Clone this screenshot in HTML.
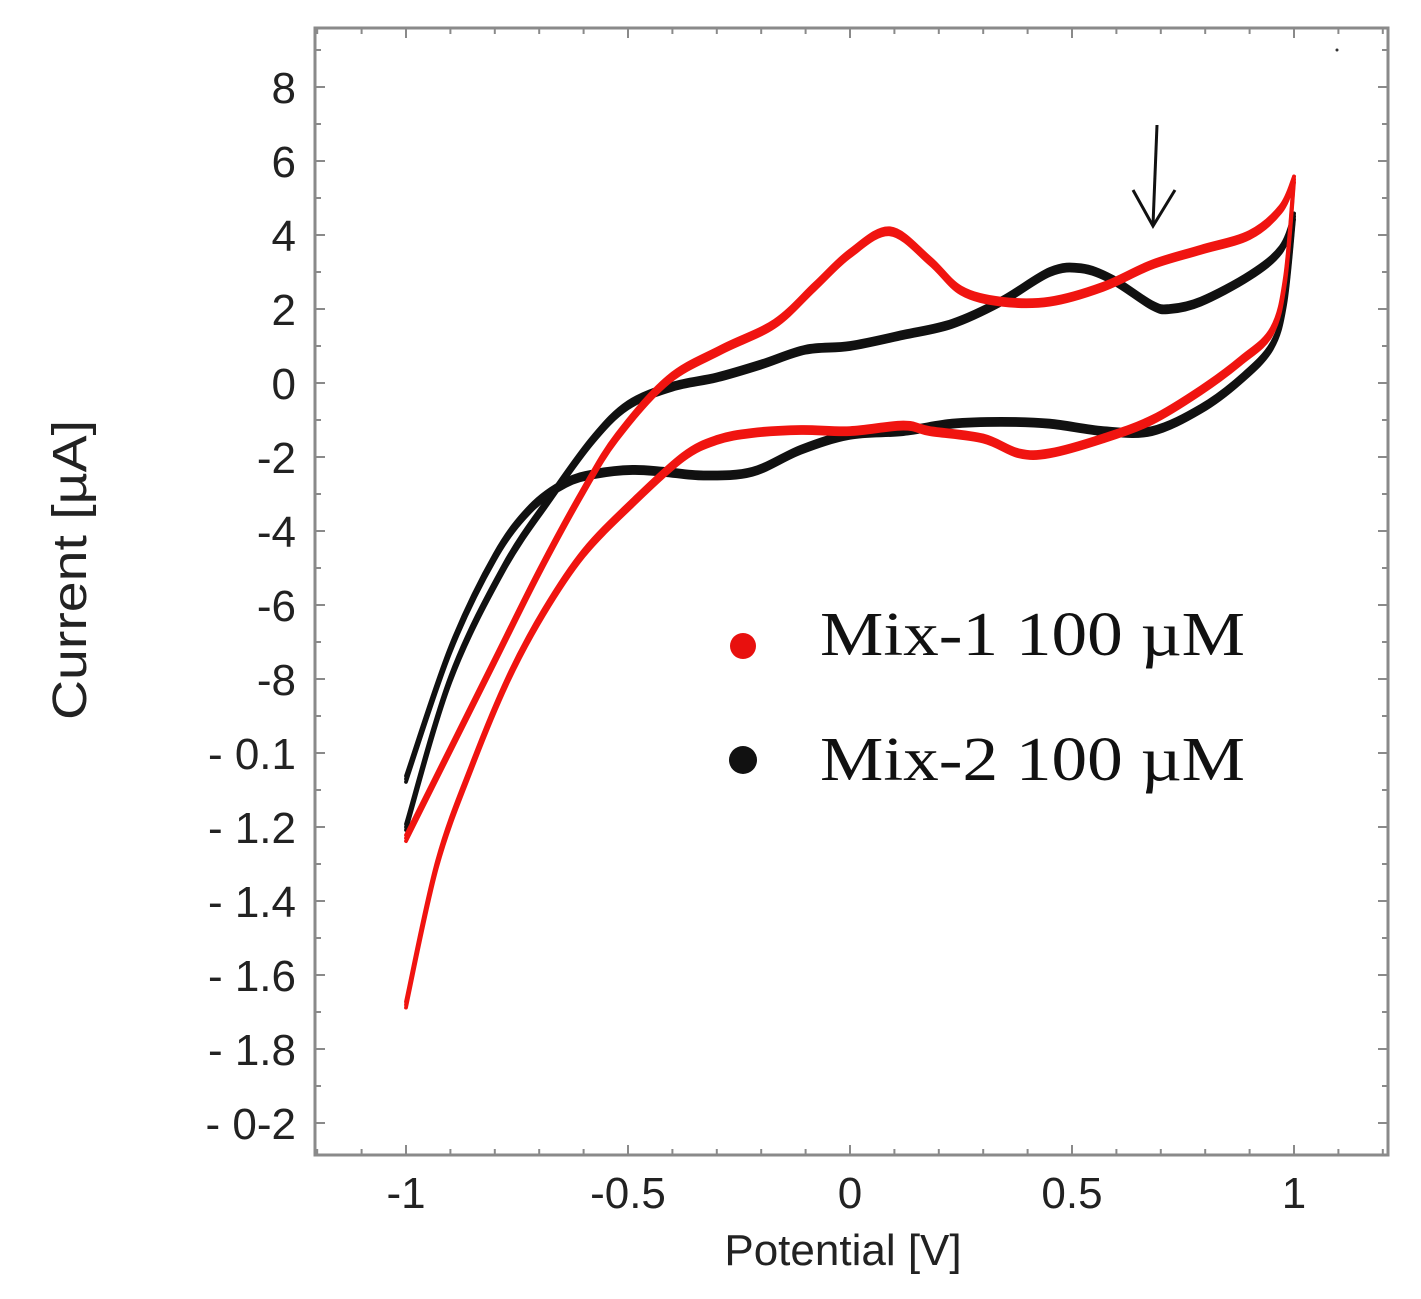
<!DOCTYPE html>
<html><head><meta charset="utf-8"><style>
html,body{margin:0;padding:0;background:#fff;}
svg{display:block;}
</style></head><body>
<svg id="chart" width="1421" height="1299" viewBox="0 0 1421 1299" xmlns="http://www.w3.org/2000/svg">
<rect x="0" y="0" width="1421" height="1299" fill="#fff"/>
<g id="axes"></g>
<g id="series"></g>
<g>
<circle cx="743" cy="646" r="13" fill="#e8100e"/>
<text x="820" y="655" font-family="Liberation Serif, serif" font-size="62" textLength="425" lengthAdjust="spacingAndGlyphs" fill="#111">Mix-1 100 µM</text>
<circle cx="743" cy="760" r="14" fill="#111"/>
<text x="820" y="780" font-family="Liberation Serif, serif" font-size="62" textLength="425" lengthAdjust="spacingAndGlyphs" fill="#111">Mix-2 100 µM</text>
</g>
<g stroke="#111" stroke-width="3" fill="none">
<line x1="1157" y1="125" x2="1153" y2="225"/>
<polyline points="1133,190 1153,226 1175,190"/>
</g>
<circle cx="1337" cy="50" r="1.5" fill="#333"/>
<text x="843" y="1265" text-anchor="middle" font-family="Liberation Sans, sans-serif" font-size="44" fill="#222">Potential [V]</text>
<text transform="translate(86,570) rotate(-90)" text-anchor="middle" font-family="Liberation Sans, sans-serif" font-size="48" textLength="300" lengthAdjust="spacingAndGlyphs" fill="#222">Current [µA]</text>
</svg>
<script>
// ---- data ----
const xTickValues = [-1, -0.5, 0, 0.5, 1];
const xTickLabels = ["-1", "-0.5", "0", "0.5", "1"];
const yTickValues = [8, 6, 4, 2, 0, -2, -4, -6, -8, -10, -12, -14, -16, -18, -20];
const yTickLabels = ["8", "6", "4", "2", "0", "-2", "-4", "-6", "-8", "- 0.1", "- 1.2", "- 1.4", "- 1.6", "- 1.8", "- 0-2"];

const mix1ForwardV = [-1, -0.9, -0.8, -0.7, -0.6, -0.525, -0.41, -0.29, -0.17, -0.08, 0, 0.09, 0.18, 0.25, 0.34, 0.45, 0.57, 0.68, 0.79, 0.9, 0.97, 1];
const mix1ForwardI = [-12.3, -9.9, -7.5, -5.1, -2.9, -1.46, 0.08, 0.9, 1.6, 2.6, 3.5, 4.1, 3.3, 2.5, 2.2, 2.2, 2.6, 3.2, 3.6, 4.0, 4.7, 5.5];
const mix1ReverseV = [1, 0.98, 0.95, 0.88, 0.79, 0.68, 0.57, 0.45, 0.38, 0.3, 0.18, 0.12, 0, -0.11, -0.22, -0.3, -0.376, -0.49, -0.6, -0.69, -0.77, -0.85, -0.93, -1];
const mix1ReverseI = [5.5, 2.8, 1.4, 0.6, -0.2, -1.0, -1.5, -1.9, -1.9, -1.5, -1.3, -1.15, -1.3, -1.27, -1.35, -1.54, -2.0, -3.24, -4.6, -6.2, -8.0, -10.3, -13.0, -16.8];
const mix2ForwardV = [-1, -0.9, -0.78, -0.675, -0.58, -0.5, -0.4, -0.3, -0.2, -0.1, 0, 0.12, 0.23, 0.34, 0.45, 0.52, 0.59, 0.68, 0.72, 0.79, 0.9, 0.97, 1];
const mix2ForwardI = [-12, -8.0, -5.0, -3.1, -1.54, -0.6, -0.1, 0.15, 0.5, 0.9, 1.0, 1.3, 1.6, 2.2, 3.0, 3.1, 2.8, 2.1, 2.0, 2.2, 2.9, 3.6, 4.5];
const mix2ReverseV = [1, 0.98, 0.95, 0.88, 0.79, 0.68, 0.57, 0.45, 0.34, 0.23, 0.12, 0, -0.11, -0.22, -0.33, -0.42, -0.49, -0.57, -0.64, -0.72, -0.8, -0.9, -1];
const mix2ReverseI = [4.5, 2.2, 1.0, 0.1, -0.7, -1.3, -1.3, -1.1, -1.05, -1.1, -1.3, -1.4, -1.8, -2.4, -2.5, -2.4, -2.35, -2.45, -2.7, -3.4, -4.7, -7.2, -10.7];

// ---- axis functions ----
const X0 = 850, XPU = 444;
const Y0 = 383, YPU = 37;
function sx(v){ return X0 + v * XPU; }
function sy(v){ return Y0 - v * YPU; }
const NS = 'http://www.w3.org/2000/svg';
function mk(tag, attrs, parent){
  const e = document.createElementNS(NS, tag);
  for (const k in attrs) e.setAttribute(k, attrs[k]);
  parent.appendChild(e); return e;
}
const axes = document.getElementById('axes');
const L = 315, R = 1388, T = 28, B = 1155;
const frame = mk('rect', {x:L, y:T, width:R-L, height:B-T, fill:'none', stroke:'#8a8a8a', 'stroke-width':3}, axes);



for (let i = -12; i <= 12; i++) {
  const v = i / 10, x = sx(v);
  if (x < L + 2 || x > R - 2) continue;
  const len = (i % 5 === 0) ? 10 : 6;
  const t1 = mk('line', {x1:x, y1:B, x2:x, y2:B-len, stroke:'#8a8a8a', 'stroke-width':2}, axes);
  
  
  const t2 = mk('line', {x1:x, y1:T, x2:x, y2:T+len, stroke:'#8a8a8a', 'stroke-width':2}, axes);
  
  
}
xTickValues.forEach((v, i) => {
  const t = mk('text', {x:sx(v), y:1208, 'text-anchor':'middle', 'font-family':'Liberation Sans, sans-serif', 'font-size':44, fill:'#222'}, axes);
  
  
  t.textContent = xTickLabels[i];
});
for (let v = 9; v >= -20; v--) {
  const y = sy(v);
  if (y < T + 2 || y > B - 2) continue;
  const len = (v % 2 === 0) ? 10 : 6;
  const t1 = mk('line', {x1:L, y1:y, x2:L+len, y2:y, stroke:'#8a8a8a', 'stroke-width':2}, axes);
  
  
  const t2 = mk('line', {x1:R, y1:y, x2:R-len, y2:y, stroke:'#8a8a8a', 'stroke-width':2}, axes);
  
  
}
yTickValues.forEach((v, i) => {
  const t = mk('text', {x:296, y:sy(v)+16, 'text-anchor':'end', 'font-family':'Liberation Sans, sans-serif', 'font-size':44, fill:'#222'}, axes);
  
  
  t.textContent = yTickLabels[i];
});

// ---- series ----
function smoothPath(vs, is, dy){
  const p = vs.map((v, k) => [sx(v), sy(is[k]) + dy]);
  let d = 'M' + p[0][0] + ',' + p[0][1];
  for (let k = 0; k < p.length - 1; k++) {
    const p0 = p[k-1] || p[k], p1 = p[k], p2 = p[k+1], p3 = p[k+2] || p2;
    const c1x = p1[0] + (p2[0]-p0[0])/6, c1y = p1[1] + (p2[1]-p0[1])/6;
    const c2x = p2[0] - (p3[0]-p1[0])/6, c2y = p2[1] - (p3[1]-p1[1])/6;
    d += ' C' + c1x + ',' + c1y + ' ' + c2x + ',' + c2y + ' ' + p2[0] + ',' + p2[1];
  }
  return d;
}
const sg = document.getElementById('series');
const cycleOffsets = [-3, 0, 3];
function drawSeries(name, color, branches){
  const g = mk('g', {}, sg);
  
  
  branches.forEach(([vs, is, bname]) => {
    cycleOffsets.forEach(dy => {
      const p = mk('path', {d:smoothPath(vs, is, dy), fill:'none', stroke:color, 'stroke-width':3.8, 'stroke-linejoin':'round', 'stroke-linecap':'round'}, g);
      
      
    });
  });
}
drawSeries('mix-2-curve', '#111', [[mix2ForwardV, mix2ForwardI, 'forward'], [mix2ReverseV, mix2ReverseI, 'reverse']]);
drawSeries('mix-1-curve', '#f01410', [[mix1ForwardV, mix1ForwardI, 'forward'], [mix1ReverseV, mix1ReverseI, 'reverse']]);
</script>
</body></html>
